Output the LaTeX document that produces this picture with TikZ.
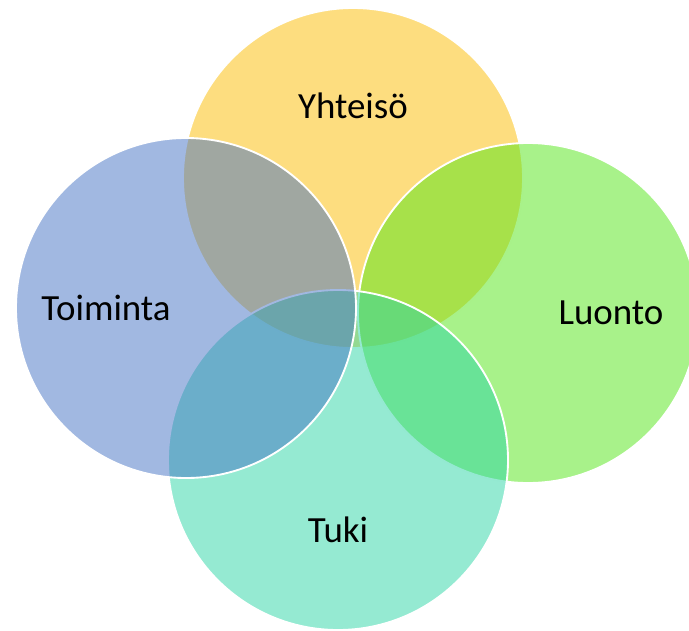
\documentclass[tikz,border=0pt]{standalone}
\usepackage{fontspec}
\setmainfont{Carlito}
\usepackage{tikz}
\usetikzlibrary{positioning}
\definecolor{gold}{HTML}{FCBC00}
\definecolor{grass}{HTML}{52E515}
\definecolor{mint}{HTML}{2BD5A5}
\definecolor{steel}{HTML}{4472C4}

\tikzset{
    ring/.style={circle, draw=white, line width=1.6pt, fill opacity=0.5, minimum size=10.2cm, inner sep=0pt},
    word/.style={font=\fontsize{31.5}{34}\selectfont, text=black}
}

\begin{document}
\begin{tikzpicture}[x=0.03cm, y=-0.03cm]
    \useasboundingbox (0,0) rectangle (689,630);
    \clip (0,0) rectangle (689,630);

    \node[ring, fill=gold] (yhteiso) at (353,178) {};
    \node[ring, fill=grass] (luonto) at (528,313) {};
    \node[ring, fill=mint] (tuki) at (338,460) {};
    \node[ring, fill=steel] (toiminta) at (186,308) {};

    \node[word] (yhteisolabel) at (353,106) {Yhteisö};
    \node[word] (toimintalabel) at (106,308) {Toiminta};
    \node[word] (luontolabel) at (611,313) {Luonto};
    \node[word] (tukilabel) at (338,530) {Tuki};
\end{tikzpicture}
\end{document}
